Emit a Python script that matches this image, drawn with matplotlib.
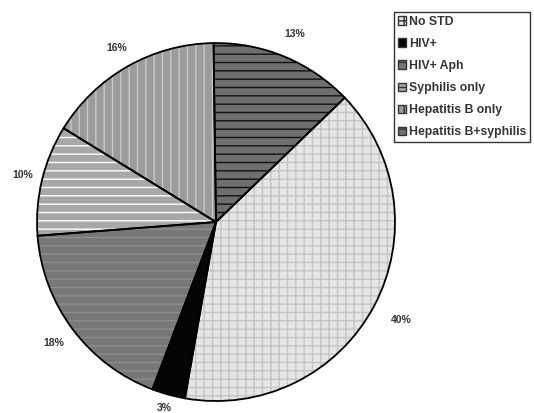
import numpy as np
import matplotlib.pyplot as plt
import matplotlib.patches as mpatches

categories = ["No STD", "HIV+", "HIV+ Aph", "Syphilis only",
              "Hepatitis B only", "Hepatitis B+syphilis"]
values = [40, 3, 18, 10, 16, 13]
pct_labels = ["40%", "3%", "18%", "10%", "16%", "13%"]

face_colors = ["#e6e6e6", "#050505", "#777777", "#a8a8a8", "#9c9c9c", "#6f6f6f"]
hatch_colors = ["#c4c4c4", "#050505", "#8e8e8e", "#ffffff", "#c8c8c8", "#111111"]
hatches = ["++", None, "--", "--", "||", "--"]
label_dist = [1.17, 1.08, 1.13, 1.11, 1.12, 1.14]

plt.rcParams["font.family"] = ["Liberation Sans", "DejaVu Sans"]
plt.rcParams["hatch.linewidth"] = 1.0

fig = plt.figure(figsize=(5.34, 4.13), dpi=100)
ax = fig.add_axes([0.0693, 0.029, 0.6704, 0.8668])

wedges, _ = ax.pie(values, startangle=44, counterclock=False,
                   colors=face_colors, wedgeprops=dict(linewidth=0))
for w, h, hc in zip(wedges, hatches, hatch_colors):
    if h:
        w.set_hatch(h)
        w.set_edgecolor(hc)

# outlines drawn on top, so hatch colour can differ from the edge colour
ax.pie(values, startangle=44, counterclock=False,
       wedgeprops=dict(facecolor="none", edgecolor="black", linewidth=1.3))

for w, lab, d in zip(wedges, pct_labels, label_dist):
    mid = np.deg2rad((w.theta1 + w.theta2) / 2)
    ax.text(d * np.cos(mid), d * np.sin(mid), lab, ha="center", va="center",
            fontsize=7.5, fontweight="bold", color="#333333")

ax.set_xlim(-1, 1)
ax.set_ylim(-1, 1)

handles = []
for name, fc, h in zip(categories, face_colors, hatches):
    handles.append(mpatches.Patch(facecolor=fc, edgecolor="#333333", hatch=h, label=name))
leg = fig.legend(handles=handles, loc="upper left", bbox_to_anchor=(394 / 534, 1 - 12 / 413),
                 frameon=True, fancybox=False, edgecolor="black",
                 prop=dict(size=8.8, weight="bold"), handlelength=0.7, handleheight=0.7,
                 handletextpad=0.25, labelspacing=0.83, borderpad=0.3, borderaxespad=0.0)
leg.get_frame().set_linewidth(1.0)
for t in leg.get_texts():
    t.set_color("#333333")

fig.savefig("out.png", dpi=100)
